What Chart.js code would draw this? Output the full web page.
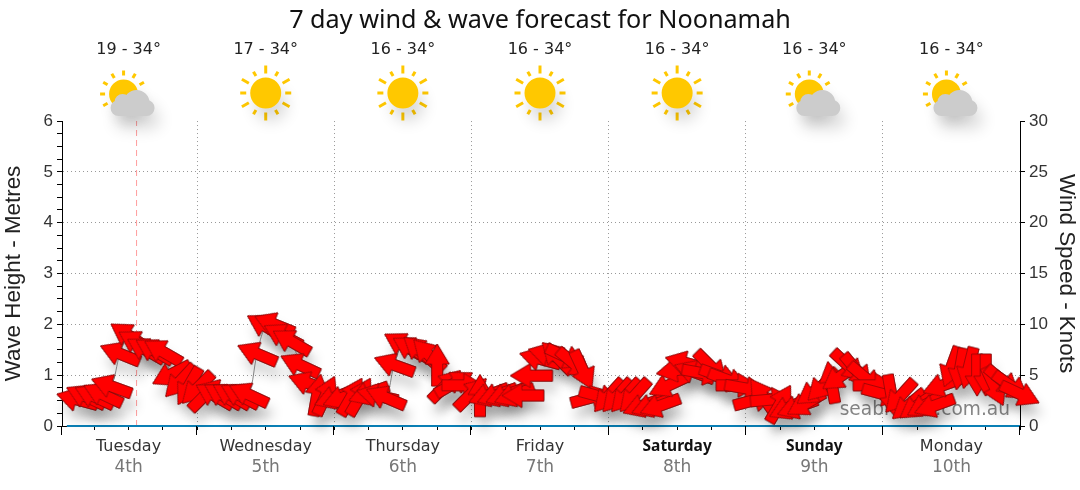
<!DOCTYPE html>
<html>
<head>
<meta charset="utf-8">
<style>
  html, body { margin: 0; padding: 0; background: #fff; }
  #chartBox { width: 1080px; height: 490px; }
</style>
<script src="https://cdn.jsdelivr.net/npm/chart.js@4/dist/chart.umd.min.js"></script>
</head>
<body>
<div id="chartBox"><canvas id="windChart"></canvas></div>
<script>
const days = ['Tuesday', 'Wednesday', 'Thursday', 'Friday', 'Saturday', 'Sunday', 'Monday'];
const dates = ['4th', '5th', '6th', '7th', '8th', '9th', '10th'];
const temps = ['19 - 34°', '17 - 34°', '16 - 34°', '16 - 34°', '16 - 34°', '16 - 34°', '16 - 34°'];
const skies = ['partly', 'sun', 'sun', 'sun', 'sun', 'partly', 'partly'];

// hours since start of Tuesday, one arrow every 1.5h
const windHours = [3, 4.5, 6, 7.5, 9, 10.5, 12, 13.5, 15, 16.5, 18, 19.5, 21, 22.5, 24, 25.5,
  27, 28.5, 30, 31.5, 33, 34.5, 36, 37.5, 39, 40.5, 42, 43.5, 45, 46.5, 48, 49.5,
  51, 52.5, 54, 55.5, 57, 58.5, 60, 61.5, 63, 64.5, 66, 67.5, 69, 70.5, 72, 73.5,
  75, 76.5, 78, 79.5, 81, 82.5, 84, 85.5, 87, 88.5, 90, 91.5, 93, 94.5, 96, 97.5,
  99, 100.5, 102, 103.5, 105, 106.5, 108, 109.5, 111, 112.5, 114, 115.5, 117, 118.5, 120, 121.5,
  123, 124.5, 126, 127.5, 129, 130.5, 132, 133.5, 135, 136.5, 138, 139.5, 141, 142.5, 144, 145.5,
  147, 148.5, 150, 151.5, 153, 154.5, 156, 157.5, 159, 160.5, 162, 163.5, 165, 166.5, 168];
const windKnots = [2.6, 2.9, 2.9, 3.1, 3.9, 7.1, 8.9, 8.2, 7.5, 7.4, 7.3, 5.1, 4.4, 3.9, 3.7, 3.1,
  3.0, 3.0, 3.0, 3.0, 3.1, 7.1, 9.8, 10, 8.9, 8.3, 6.0, 4.2, 3.05, 3.0, 2.8, 2.8,
  2.9, 2.9, 3.2, 3.0, 2.8, 6.0, 8.0, 7.6, 7.4, 7.0, 6.0, 4.0, 4.2, 4.0, 3.2, 3.0,
  3.05, 3.05, 3.05, 3.05, 3.0, 4.95, 6.6, 7.0, 6.75, 6.8, 6.1, 5.5, 2.8, 2.9, 2.95, 2.95,
  2.95, 2.95, 2.0, 2.0, 2.0, 4.0, 5.5, 6.2, 5.3, 5.2, 5.8, 4.9, 4.5, 4.0, 3.7, 2.55,
  2.9, 2.6, 2.2, 1.8, 1.85, 2.2, 3.4, 4.0, 4.3, 4.85, 5.9, 5.4, 4.7, 4.0, 3.15, 3.0,
  2.9, 2.05, 2.0, 2.1, 2.0, 4.0, 5.8, 5.6, 5.7, 5.0, 5.0, 3.9, 4.4, 3.9, 3.15];
const windDir = [285, 295, 295, 295, 290, 292, 303, 300, 300, 300, 300, 243, 223, 210, 225, 45,
  300, 300, 300, 298, 295, 293, 300, 292, 298, 300, 295, 290, 10, 25, 250, 250,
  30, 30, 250, 283, 293, 290, 300, 300, 310, 315, 0, 45, 60, 90, 45, 0,
  250, 250, 250, 250, 270, 270, 285, 285, 315, 115, 130, 155, 75, 105, 222, 222,
  222, 222, 250, 250, 250, 245, 260, 285, 290, 100, 135, 110, 110, 90, 100, 75,
  325, 85, 30, 245, 250, 240, 235, 225, 350, 235, 133, 140, 130, 90, 105, 170,
  222, 230, 235, 240, 250, 250, 200, 190, 194, 180, 180, 155, 130, 125, 115];
const waveHours = [1.2, 168];
const waveMetres = [0, 0];
const nowHours = [13.4, 13.4];
const nowMetres = [0, 6];

const uiFont = '"DejaVu Sans", sans-serif';
const titleFont = '"Noto Sans", sans-serif';
const axisFont = '"Liberation Sans", sans-serif';

// red arrow pointing up, chart.js rotates it with pointRotation
function makeArrow() {
  const c = document.createElement('canvas');
  c.width = 48;
  c.height = 48;
  const g = c.getContext('2d');
  g.translate(24, 24);
  g.beginPath();
  g.moveTo(0, -21);
  g.lineTo(12, -1);
  g.lineTo(5.5, -1);
  g.lineTo(5.5, 21);
  g.lineTo(-5.5, 21);
  g.lineTo(-5.5, -1);
  g.lineTo(-12, -1);
  g.closePath();
  g.fillStyle = '#ff0000';
  g.strokeStyle = '#6a0808';
  g.lineWidth = 0.6;
  g.fill();
  g.stroke();
  return c;
}

function drawSun(ctx, x, y, r, rays) {
  ctx.strokeStyle = '#ffc800';
  ctx.lineWidth = 3;
  rays.forEach((len, i) => {
    if (!len) return;
    const a = i * Math.PI / 6;
    ctx.beginPath();
    ctx.moveTo(x + Math.sin(a) * (r + 4), y - Math.cos(a) * (r + 4));
    ctx.lineTo(x + Math.sin(a) * (r + 4 + len), y - Math.cos(a) * (r + 4 + len));
    ctx.stroke();
  });
  ctx.save();
  ctx.shadowColor = 'rgba(0,0,0,0.16)';
  ctx.shadowBlur = 16;
  ctx.shadowOffsetX = 5;
  ctx.shadowOffsetY = 12;
  ctx.fillStyle = '#ffc800';
  ctx.beginPath();
  ctx.arc(x, y, r, 0, Math.PI * 2);
  ctx.fill();
  ctx.restore();
}

function drawIcon(ctx, x, type) {
  if (type === 'sun') {
    drawSun(ctx, x, 93, 15.5, [8, 5, 8, 6, 8, 5, 8, 5, 8, 6, 8, 5]);
    return;
  }
  drawSun(ctx, x - 5, 94, 14.5, [5, 5, 5, 0, 0, 0, 0, 0, 5, 5, 5, 5]);
  ctx.save();
  ctx.shadowColor = 'rgba(0,0,0,0.16)';
  ctx.shadowBlur = 16;
  ctx.shadowOffsetX = 5;
  ctx.shadowOffsetY = 12;
  ctx.fillStyle = '#cccccc';
  ctx.beginPath();
  ctx.arc(x - 10, 108, 8, 0, Math.PI * 2);
  ctx.moveTo(x + 1, 102);
  ctx.arc(x - 6, 102, 8, 0, Math.PI * 2);
  ctx.moveTo(x + 21, 103);
  ctx.arc(x + 8, 103, 13, 0, Math.PI * 2);
  ctx.moveTo(x + 26, 108);
  ctx.arc(x + 18, 108, 8, 0, Math.PI * 2);
  ctx.rect(x - 10, 104, 28, 12);
  ctx.fill();
  ctx.restore();
}

const forecastDecor = {
  id: 'forecastDecor',
  beforeDatasetsDraw(chart) {
    const { ctx, chartArea } = chart;
    ctx.save();
    ctx.font = '18.6px ' + uiFont;
    ctx.fillStyle = '#888888';
    ctx.textAlign = 'right';
    ctx.textBaseline = 'middle';
    ctx.fillText('seabreeze.com.au', chartArea.right - 10, 410);
    ctx.restore();
  },
  beforeDatasetDraw(chart, args) {
    if (args.meta.label !== 'Wind shadow') return;
    const ctx = chart.ctx;
    ctx.save();
    ctx.shadowColor = 'rgba(0,0,0,0.16)';
    ctx.shadowBlur = 11;
    ctx.shadowOffsetX = 4;
    ctx.shadowOffsetY = 12;
  },
  afterDatasetDraw(chart, args) {
    if (args.meta.label === 'Wind shadow') chart.ctx.restore();
  },
  afterDraw(chart) {
    const { ctx, chartArea, scales } = chart;
    const xs = scales.x;
    ctx.save();
    // long ticks on the day boundaries
    ctx.strokeStyle = '#000';
    ctx.lineWidth = 1;
    for (let i = 0; i <= days.length; i++) {
      const px = Math.round(Math.max(xs.getPixelForValue(i * 24), chartArea.left)) - 0.5;
      ctx.beginPath();
      ctx.moveTo(px, chartArea.bottom);
      ctx.lineTo(px, chartArea.bottom + 9);
      ctx.stroke();
    }
    ctx.textAlign = 'center';
    ctx.textBaseline = 'middle';
    days.forEach((day, i) => {
      const px = xs.getPixelForValue(i * 24 + 12);
      const weekend = day === 'Saturday' || day === 'Sunday';
      ctx.font = weekend ? 'bold 15.5px ' + titleFont : '16px ' + uiFont;
      ctx.fillStyle = weekend ? '#111' : '#333';
      ctx.fillText(day, px, 447);
      ctx.font = '17px ' + uiFont;
      ctx.fillStyle = '#777';
      ctx.fillText(dates[i], px, 468);
      ctx.font = '16px ' + uiFont;
      ctx.fillStyle = '#222';
      ctx.fillText(temps[i], px, 50);
      drawIcon(ctx, px, skies[i]);
    });
    ctx.restore();
  }
};

const windPoints = windHours.map((h, i) => ({ x: h, y: windKnots[i] }));
const arrowImage = makeArrow();

new Chart(document.getElementById('windChart'), {
  type: 'line',
  data: {
    datasets: [
      {
        label: 'Wind',
        yAxisID: 'y2',
        order: 1,
        data: windPoints,
        pointStyle: arrowImage,
        pointRadius: 20,
        pointRotation: windDir,
        borderColor: '#666666',
        borderWidth: 0.8,
        tension: 0.4,
        clip: false
      },
      {
        // same arrows again underneath, only there to cast the soft shadow
        label: 'Wind shadow',
        yAxisID: 'y2',
        order: 2,
        data: windPoints,
        showLine: false,
        pointStyle: arrowImage,
        pointRadius: 20,
        pointRotation: windDir,
        clip: false
      },
      {
        label: 'Wave',
        yAxisID: 'y',
        order: 3,
        data: waveHours.map((h, i) => ({ x: h, y: waveMetres[i] })),
        pointRadius: 0,
        borderColor: '#0a7fb5',
        borderWidth: 2,
        clip: false
      },
      {
        label: 'Now',
        yAxisID: 'y',
        order: 4,
        data: nowHours.map((h, i) => ({ x: h, y: nowMetres[i] })),
        pointRadius: 0,
        borderColor: '#ff9c9c',
        borderWidth: 1,
        borderDash: [6, 4]
      }
    ]
  },
  plugins: [forecastDecor],
  options: {
    responsive: true,
    maintainAspectRatio: false,
    animation: false,
    events: [],
    layout: { padding: 0 },
    plugins: {
      legend: { display: false },
      tooltip: { enabled: false },
      title: {
        display: true,
        text: '7 day wind & wave forecast for Noonamah',
        color: '#111',
        font: { family: titleFont, size: 25.2, weight: 'normal' },
        padding: { top: 6, bottom: 84.8 }
      }
    },
    scales: {
      x: {
        type: 'linear',
        min: 0.35,
        max: 168,
        afterFit(scale) { scale.height = 64; },
        afterBuildTicks(scale) { scale.ticks = scale.ticks.filter(t => t.value > 1); },
        ticks: { display: false, stepSize: 6, includeBounds: false },
        border: { color: '#000', dash: [1, 3] },
        grid: {
          color: c => (c.tick && c.tick.value % 24 === 0 && c.tick.value < 168 ? '#999999' : 'rgba(0,0,0,0)'),
          tickColor: '#000',
          tickLength: 4
        }
      },
      y: {
        min: 0,
        max: 6,
        afterFit(scale) { scale.width = 62; },
        title: { display: true, text: 'Wave Height - Metres', color: '#222', font: { family: axisFont, size: 22.4 }, padding: 0 },
        ticks: {
          stepSize: 0.25,
          autoSkip: false,
          padding: 4,
          color: '#333',
          font: { family: axisFont, size: 17 },
          callback: v => (Number.isInteger(v) ? v : '')
        },
        border: { color: '#000', dash: [1, 3] },
        grid: {
          color: c => (c.tick && Number.isInteger(c.tick.value) && c.tick.value > 0 && c.tick.value < 6 ? '#999999' : 'rgba(0,0,0,0)'),
          tickColor: '#000',
          tickLength: 5
        }
      },
      y2: {
        position: 'right',
        min: 0,
        max: 30,
        afterFit(scale) { scale.width = 60; },
        title: { display: true, text: 'Wind Speed - Knots', color: '#222', font: { family: axisFont, size: 22.4 }, padding: 0 },
        ticks: { stepSize: 5, padding: 4, color: '#333', font: { family: axisFont, size: 17 } },
        border: { color: '#000' },
        grid: { drawOnChartArea: false, tickColor: '#000', tickLength: 5 }
      }
    }
  }
});
</script>
</body>
</html>
